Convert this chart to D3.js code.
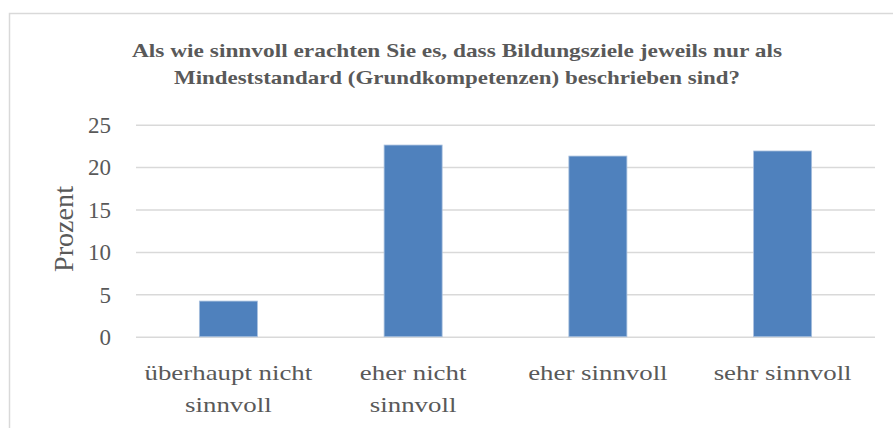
<!DOCTYPE html>
<html><head><meta charset="utf-8">
<script src="https://cdn.jsdelivr.net/npm/d3@7"></script>
<style>body{margin:0;background:#fff}svg{display:block}</style>
</head><body>
<svg id="c" width="893" height="428"></svg>
<script>
const categories = [["überhaupt nicht","sinnvoll"],["eher nicht","sinnvoll"],["eher sinnvoll"],["sehr sinnvoll"]];
const values = [4.2, 22.6, 21.3, 21.9];
const yTicks = [0,5,10,15,20,25];
const titleLines = ["Als wie sinnvoll erachten Sie es, dass Bildungsziele jeweils nur als","Mindeststandard (Grundkompetenzen) beschrieben sind?"];
const yLabel = "Prozent";

(function(){
const svg = d3.select("#c");
const serif = "'Palatino Linotype','Book Antiqua',Palatino,'Liberation Serif','DejaVu Serif',serif";
const gray = "#595959";
function widen(sel, k){
  sel.each(function(){
    const w = this.getComputedTextLength();
    d3.select(this).attr("textLength", w*k).attr("lengthAdjust","spacingAndGlyphs");
  });
}

svg.append("rect").attr("x",9.5).attr("y",13.5).attr("width",900).attr("height",430)
  .attr("fill","#fff").attr("stroke","#d9d9d9").attr("stroke-width",1.5);

const pL=136, pR=875, pT=124.7, pB=336.7;
const x = d3.scaleBand().domain(d3.range(categories.length)).range([pL,pR]).paddingInner(0.686).paddingOuter(0.343);
const y = d3.scaleLinear().domain([0,25]).range([pB,pT]);

const yAxis = d3.axisLeft(y).tickValues(yTicks).tickSize(-(pR-pL)).tickPadding(25);
const gy = svg.append("g").attr("transform",`translate(${pL},0)`).call(yAxis);
gy.select(".domain").remove();
gy.selectAll(".tick line").attr("stroke","#d9d9d9").attr("stroke-width",1.5);
gy.selectAll(".tick text").attr("fill",gray).style("font-family",serif).style("font-size","23px").attr("dy","0.34em");

svg.append("g").selectAll("rect").data(values).join("rect")
  .attr("x",(d,i)=>x(i)).attr("width",x.bandwidth())
  .attr("y",d=>y(d)).attr("height",d=>y(0)-y(d))
  .attr("fill","#4f81bd").attr("stroke","#a7bfde").attr("stroke-width",0.8);

const xl = svg.append("g");
categories.forEach((lines,i)=>{
  lines.forEach((l,j)=>{
    xl.append("text").attr("text-anchor","middle").attr("fill",gray)
      .style("font-family",serif).style("font-size","22px")
      .attr("x",x(i)+x.bandwidth()/2).attr("y",380+j*32).text(l);
  });
});
widen(xl.selectAll("text"), 1.22);

const yl = svg.append("text").attr("transform",`translate(72.5,229) rotate(-90)`)
  .attr("text-anchor","middle").attr("fill",gray).style("font-family",serif).style("font-size","27px").text(yLabel);
yl.attr("textLength",86).attr("lengthAdjust","spacingAndGlyphs");

const tw=[650,566];
titleLines.forEach((l,j)=>{
  svg.append("text").attr("x",457).attr("y",57+j*27).attr("text-anchor","middle")
    .attr("fill",gray).style("font-family",serif).style("font-size","19px").style("font-weight","bold")
    .attr("textLength",tw[j]).attr("lengthAdjust","spacingAndGlyphs").text(l);
});
})();
</script>
</body></html>
